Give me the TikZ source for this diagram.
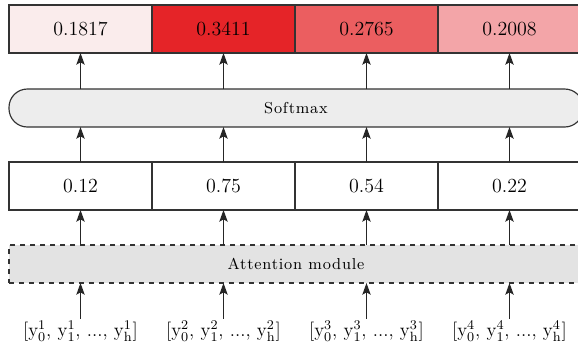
\documentclass[tikz,border=0pt]{standalone}
\usepackage{fontspec}
\usetikzlibrary{arrows.meta}
\newfontfamily\spacedfont[LetterSpace=5]{Latin Modern Roman}
\definecolor{wa}{RGB}{250,236,236}
\definecolor{wb}{RGB}{229,36,40}
\definecolor{wc}{RGB}{235,94,96}
\definecolor{wd}{RGB}{243,165,168}
\tikzset{
  cell/.style={draw=black!80, line width=0.7pt, minimum width=85.8pt, minimum height=28.8pt, inner sep=0pt, outer sep=0pt},
  band/.style={draw=black!80, line width=0.7pt, minimum width=344.4pt, minimum height=22.8pt, inner sep=0pt, outer sep=0pt, font=\fontsize{9.5}{12}\spacedfont},
  seq/.style={inner sep=1pt, font=\fontsize{11.5}{13}\selectfont},
  arr/.style={-{Stealth[length=7pt,width=5pt,inset=1.4pt]}, line width=0.8pt, black!85}
}
\begin{document}
\begin{tikzpicture}[x=0.6pt,y=-0.6pt,font=\fontsize{12}{14}\selectfont]
	\useasboundingbox (0,0) rectangle (578,351);
	% weights after softmax
	\node[cell,fill=wa] (p1) at (80.5,29) {0.1817};
	\node[cell,fill=wb] (p2) at (223.5,29) {0.3411};
	\node[cell,fill=wc] (p3) at (366.5,29) {0.2765};
	\node[cell,fill=wd] (p4) at (509.5,29) {0.2008};
	\node[band,fill=black!7,rounded corners=11pt] (sm) at (296,108) {Softmax};
	% raw scores
	\node[cell] (s1) at (80.5,186) {0.12};
	\node[cell] (s2) at (223.5,186) {0.75};
	\node[cell] (s3) at (366.5,186) {0.54};
	\node[cell] (s4) at (509.5,186) {0.22};
	\node[band,fill=black!11,dashed] (att) at (296,264) {Attention module};
	% input sequences
	\node[seq] (y1) at (80.5,331) {[y$^1_0$, y$^1_1$, ..., y$^1_{\mathrm{h}}$]};
	\node[seq] (y2) at (223.5,331) {[y$^2_0$, y$^2_1$, ..., y$^2_{\mathrm{h}}$]};
	\node[seq] (y3) at (366.5,331) {[y$^3_0$, y$^3_1$, ..., y$^3_{\mathrm{h}}$]};
	\node[seq] (y4) at (509.5,331) {[y$^4_0$, y$^4_1$, ..., y$^4_{\mathrm{h}}$]};
	\draw[arr] (y1.north) -- (y1.north |- att.south);
	\draw[arr] (y2.north) -- (y2.north |- att.south);
	\draw[arr] (y3.north) -- (y3.north |- att.south);
	\draw[arr] (y4.north) -- (y4.north |- att.south);
	\draw[arr] (s1.south |- att.north) -- (s1.south);
	\draw[arr] (s2.south |- att.north) -- (s2.south);
	\draw[arr] (s3.south |- att.north) -- (s3.south);
	\draw[arr] (s4.south |- att.north) -- (s4.south);
	\draw[arr] (s1.north) -- (s1.north |- sm.south);
	\draw[arr] (s2.north) -- (s2.north |- sm.south);
	\draw[arr] (s3.north) -- (s3.north |- sm.south);
	\draw[arr] (s4.north) -- (s4.north |- sm.south);
	\draw[arr] (p1.south |- sm.north) -- (p1.south);
	\draw[arr] (p2.south |- sm.north) -- (p2.south);
	\draw[arr] (p3.south |- sm.north) -- (p3.south);
	\draw[arr] (p4.south |- sm.north) -- (p4.south);
\end{tikzpicture}
\end{document}
